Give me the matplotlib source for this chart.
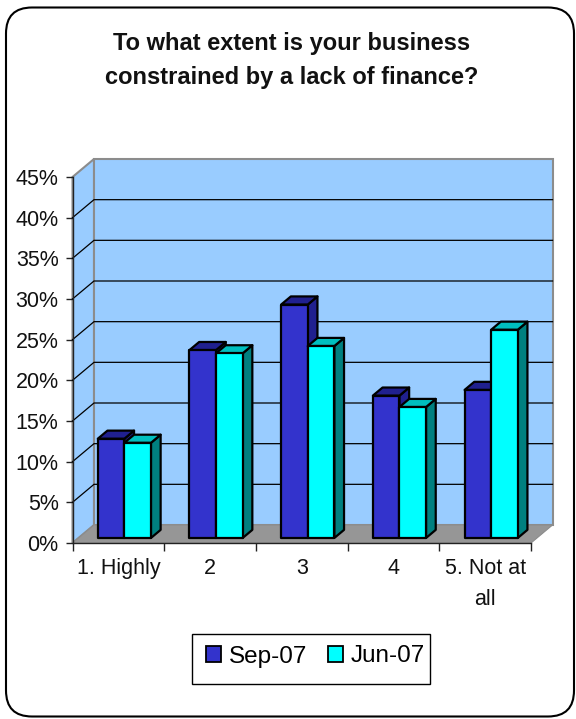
import matplotlib
matplotlib.use("Agg")
import matplotlib.pyplot as plt
from matplotlib.patches import Polygon, FancyBboxPatch, Patch, Rectangle

plt.rcParams["font.family"] = ["Liberation Sans", "DejaVu Sans"]

categories = ["1. Highly", "2", "3", "4", "5. Not at\nall"]
sep_07 = [12.2, 23.1, 28.7, 17.5, 18.2]
jun_07 = [11.7, 22.7, 23.6, 16.1, 25.6]
y_ticks = [0, 5, 10, 15, 20, 25, 30, 35, 40, 45]
title = "To what extent is your business\nconstrained by a lack of finance?"

W, H = 576, 719
# front plane of the 3D box, in pixels from the top left
LEFT, RIGHT, TOP, BOTTOM = 72.5, 531, 177, 543
# wall depth expressed in data units
DX = 21.5 / ((RIGHT - LEFT) / 5)
DY = 18 / ((BOTTOM - TOP) / 45)
BAR_W = 0.29
BAR_START = 0.28        # fraction of the depth where bars begin
BAR_DEPTH = 0.45

WALL = "#99CCFF"
FLOOR = "#969696"
EDGE = "#8C8C8C"

fig = plt.figure(figsize=(W / 100, H / 100), dpi=100, facecolor="white")

# outer rounded frame and the legend box share a pixel-coordinate layer
bg = fig.add_axes([0, 0, 1, 1])
bg.set_xlim(0, W); bg.set_ylim(H, 0); bg.axis("off")
bg.add_patch(FancyBboxPatch((6 + 26, 7.5 + 26), 568 - 52, 709 - 52,
                            boxstyle="round,pad=26,rounding_size=26",
                            fc="white", ec="black", lw=1.5))
bg.add_patch(Rectangle((192, 633.5), 238, 50, fc="white", ec="black", lw=1.0))

ax = fig.add_axes([LEFT / W, 1 - BOTTOM / H, (RIGHT - LEFT) / W, (BOTTOM - TOP) / H])
ax.set_xlim(0, 5); ax.set_ylim(0, 45)
ax.patch.set_visible(False)
for s in ("top", "right"):
    ax.spines[s].set_visible(False)
for s in ("left", "bottom"):
    ax.spines[s].set_linewidth(1.0)
    ax.spines[s].set_color("#222222")

# side wall, back wall and floor
ax.add_patch(Polygon([(0, 0), (DX, DY), (DX, 45 + DY), (0, 45)], fc=WALL, ec=EDGE, lw=1.5,
                     clip_on=False, zorder=1))
ax.add_patch(Polygon([(DX, DY), (5 + DX, DY), (5 + DX, 45 + DY), (DX, 45 + DY)], fc=WALL, ec=EDGE,
                     lw=1.5, clip_on=False, zorder=1))
ax.add_patch(Polygon([(0, 0), (5, 0), (5 + DX, DY), (DX, DY)], fc=FLOOR, ec=EDGE, lw=0.8,
                     clip_on=False, zorder=1.5))

# gridlines run along the side wall and across the back
for v in y_ticks[1:-1]:
    ax.plot([0, DX, 5 + DX], [v, v + DY, v + DY], color="black", lw=0.9, clip_on=False, zorder=2,
            solid_joinstyle="miter")


def bar3d(x, v, front, top, side, z):
    # box front face sits partway into the floor depth
    dx0, dy0 = DX * BAR_START, DY * BAR_START
    dx, dy = DX * BAR_DEPTH, DY * BAR_DEPTH
    x0, x1 = x + dx0, x + BAR_W + dx0
    y0, y1 = dy0, v + dy0
    style = dict(ec="black", lw=1.6, joinstyle="round", clip_on=False, zorder=z)
    ax.add_patch(Polygon([(x1, y0), (x1 + dx, y0 + dy), (x1 + dx, y1 + dy), (x1, y1)], fc=side, **style))
    ax.add_patch(Polygon([(x0, y1), (x1, y1), (x1 + dx, y1 + dy), (x0 + dx, y1 + dy)], fc=top, **style))
    ax.add_patch(Polygon([(x0, y0), (x1, y0), (x1, y1), (x0, y1)], fc=front, **style))


for i, (a, b) in enumerate(zip(sep_07, jun_07)):
    centre = i + 0.5
    bar3d(centre - BAR_W, a, "#3333CC", "#20208F", "#20208F", 3 + i)
    bar3d(centre, b, "#00FFFF", "#00BFBF", "#008080", 3.5 + i)

ax.set_yticks(y_ticks)
ax.set_yticklabels([f"{v}%" for v in y_ticks], fontsize=15.5, color="#111111")
ax.set_xticks(range(6))
ax.set_xticklabels([])
ax.set_xticks([i + 0.5 for i in range(5)], minor=True)
ax.set_xticklabels(categories, minor=True, fontsize=15.5, color="#111111", linespacing=1.62)
ax.tick_params(axis="y", length=5, width=1, pad=5, color="#222222")
ax.tick_params(axis="x", which="major", length=6, width=1, color="#222222")
ax.tick_params(axis="x", which="minor", length=0, pad=11)

fig.text(291.5 / W, 1 - 60.5 / H, title, ha="center", va="center", fontsize=17, fontweight="bold",
         linespacing=1.6, color="#111111")

handles = [Patch(fc="#3333CC", ec="black", lw=1.3, label="Sep-07"),
           Patch(fc="#00FFFF", ec="black", lw=1.3, label="Jun-07")]
leg = fig.legend(handles=handles, ncol=2, loc="center", bbox_to_anchor=(315.5 / W, 1 - 656.5 / H),
                 fontsize=17.5, frameon=False, handlelength=0.62, handleheight=0.62,
                 handletextpad=0.32, columnspacing=0.85, borderpad=0, borderaxespad=0)

fig.savefig("out.png", dpi=100)
